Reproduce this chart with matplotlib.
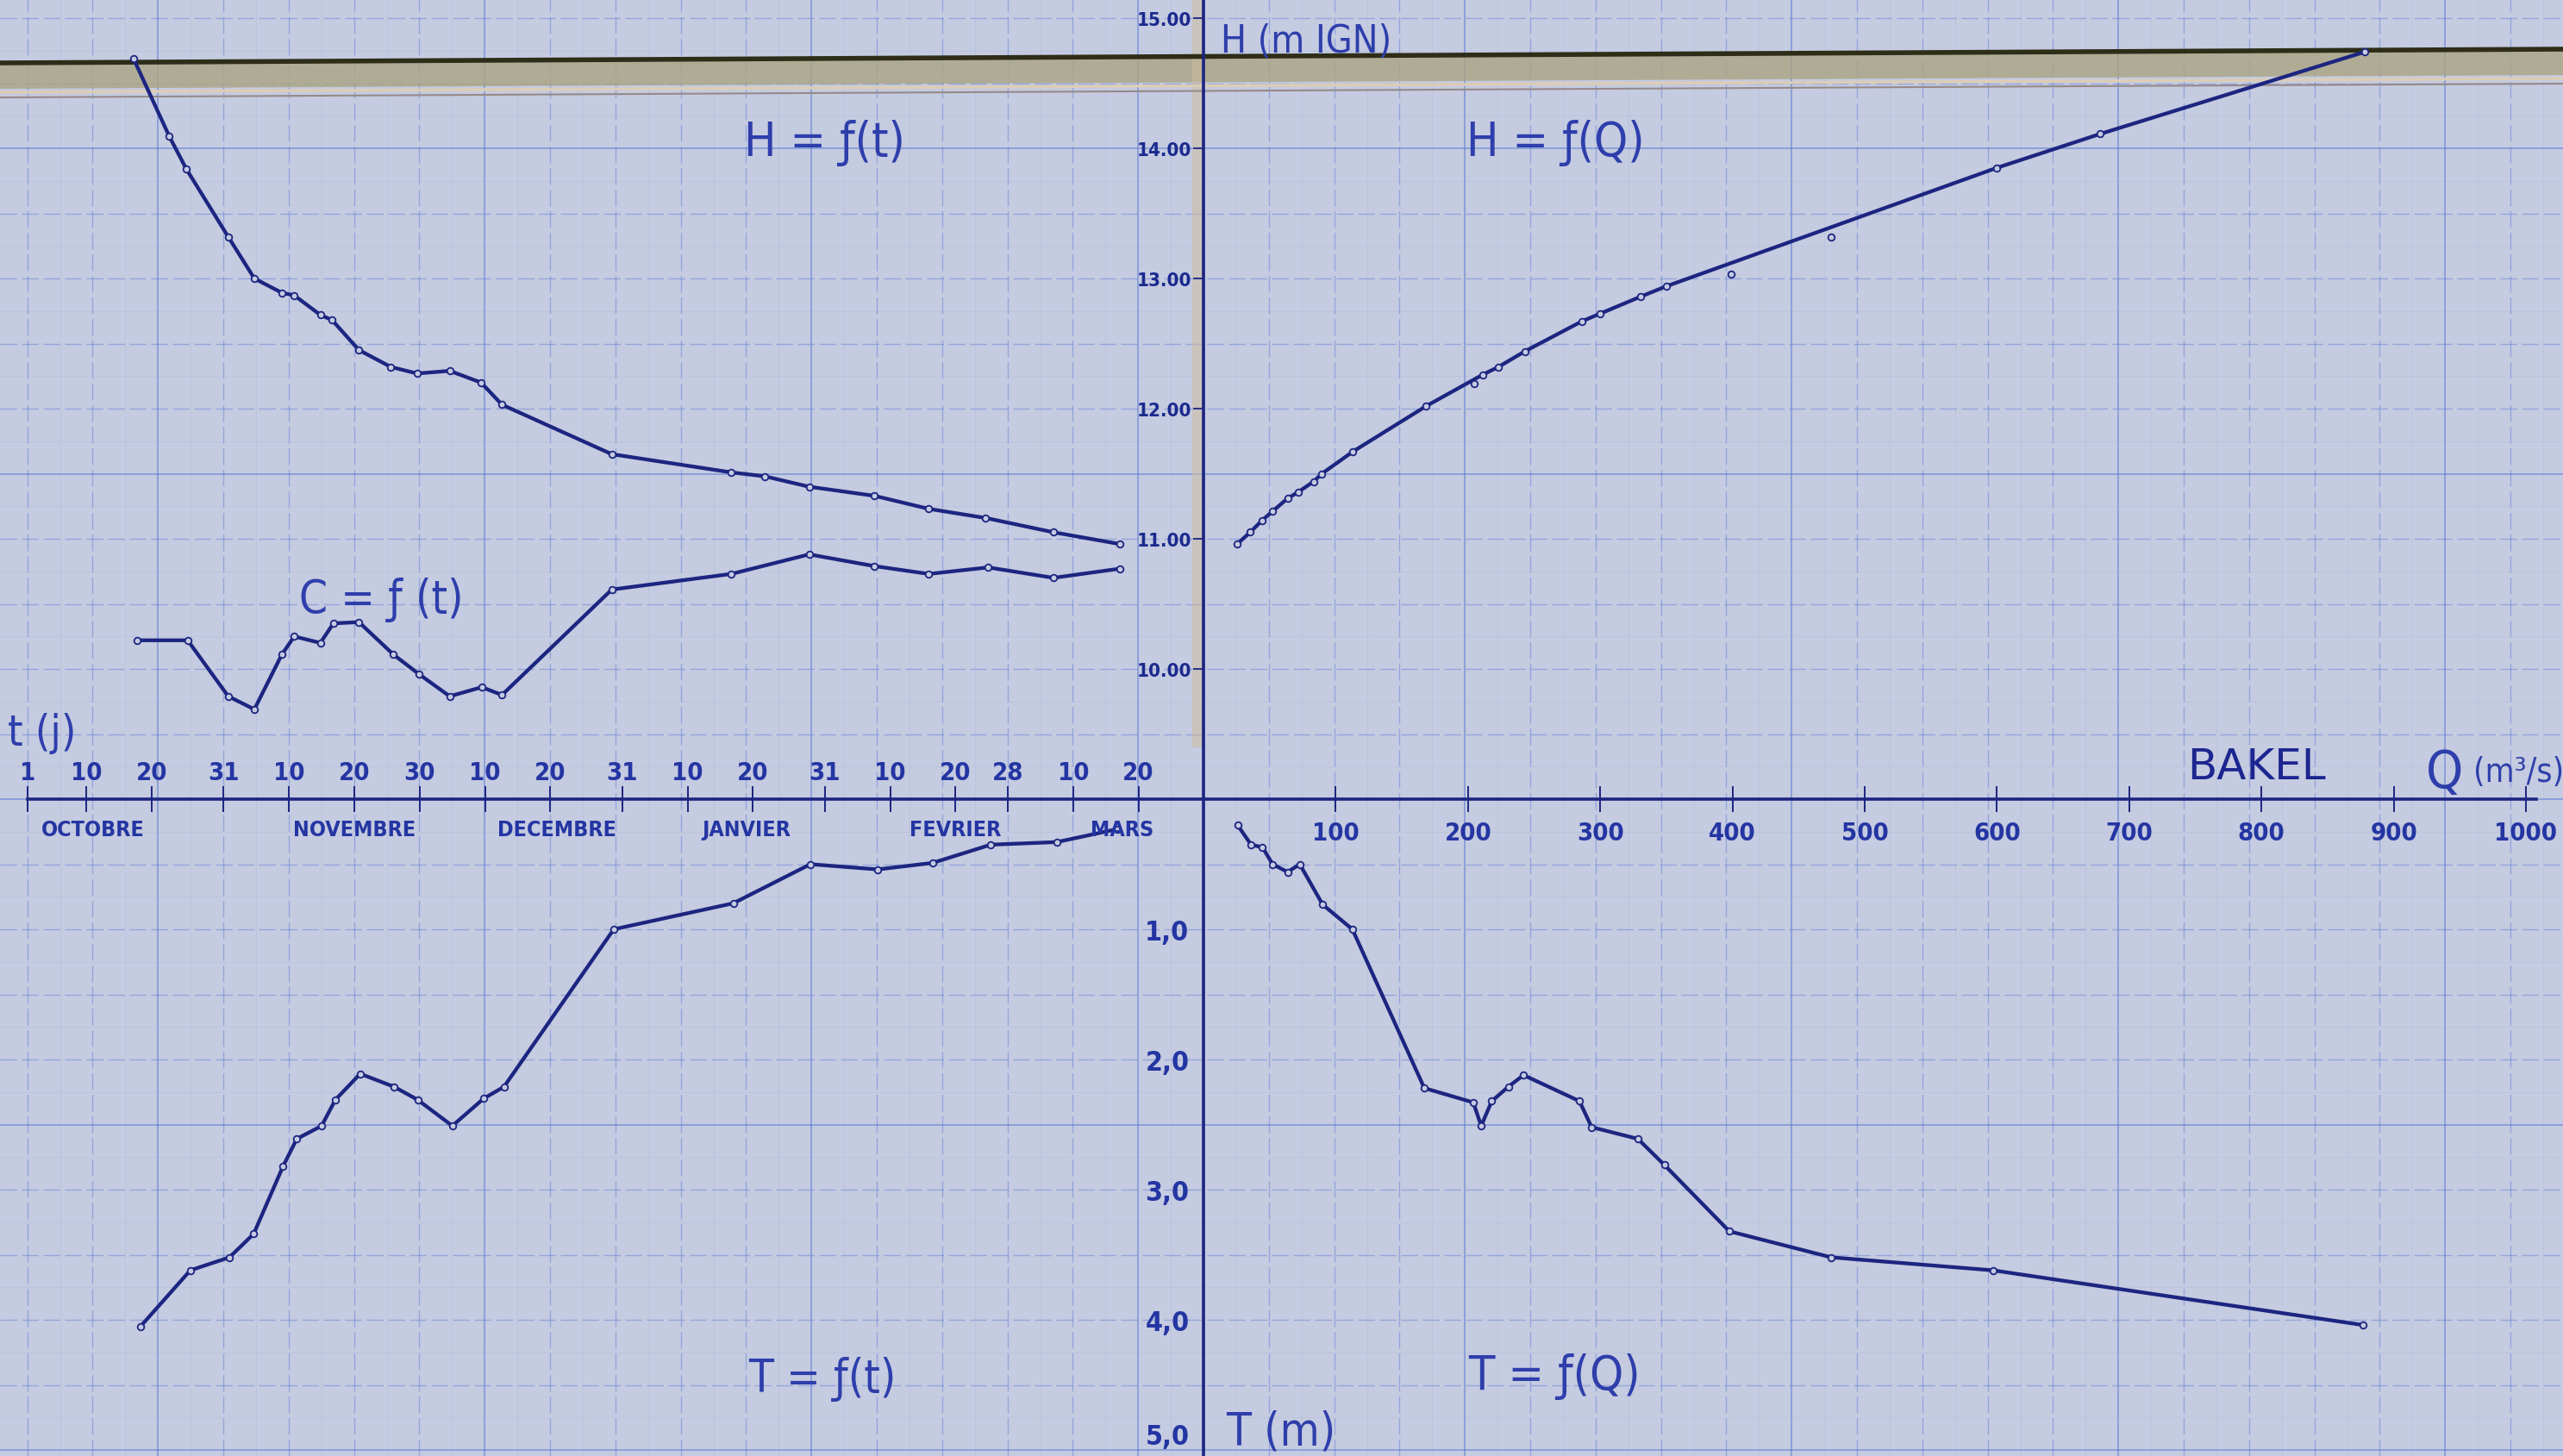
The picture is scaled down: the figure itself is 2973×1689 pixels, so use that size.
import numpy as np
import matplotlib.pyplot as plt
from matplotlib.lines import Line2D
from matplotlib.patches import Polygon, Rectangle

# BAKEL - H, C and T against time (left) and against discharge Q (right)
# time is counted in days: 1 = 1 octobre ... 181 = 30 mars

days_H = [17.2, 22.7, 25.3, 31.7, 35.7, 39.9, 41.8, 45.8, 47.6, 51.7, 56.6, 60.6,
          65.6, 70.4, 73.6, 90.4, 108.7, 113.8, 120.6, 130.6, 138.9, 147.6, 158.0, 168.1]
H_t = [14.69, 14.09, 13.84, 13.32, 13.00, 12.89, 12.87, 12.72, 12.68, 12.45, 12.32, 12.27,
       12.29, 12.20, 12.03, 11.65, 11.51, 11.48, 11.40, 11.33, 11.23, 11.16, 11.05, 10.96]

# C has no scale on the sheet, read in H units
days_C = [17.7, 25.5, 31.7, 35.7, 39.9, 41.8, 45.8, 47.8, 51.7, 57.0, 60.9, 65.6, 70.5,
          73.6, 90.4, 108.7, 120.6, 130.6, 138.9, 148.0, 158.0, 168.1]
C_t = [10.22, 10.22, 9.79, 9.69, 10.11, 10.25, 10.20, 10.35, 10.36, 10.11, 9.96, 9.79, 9.86,
       9.80, 10.61, 10.73, 10.88, 10.79, 10.73, 10.78, 10.70, 10.77]

days_T = [18.3, 25.9, 31.9, 35.6, 40.1, 42.2, 46.0, 48.1, 51.9, 57.1, 60.7, 66.0, 70.8,
          73.9, 90.7, 109.0, 120.8, 131.1, 139.5, 148.4, 158.5, 167.8]
T_t = [4.05, 3.62, 3.52, 3.34, 2.82, 2.61, 2.51, 2.31, 2.11, 2.21, 2.31, 2.51, 2.30,
       2.21, 1.00, 0.80, 0.50, 0.54, 0.49, 0.35, 0.33, 0.23]

# rating curve H = f(Q)
Q_HQ = [25.5, 35.3, 44.2, 52.1, 63.6, 71.8, 83.3, 89.5, 113, 168.5, 211, 223, 243,
        286, 300, 330.5, 350, 600, 678, 878]
H_Q = [10.96, 11.05, 11.14, 11.21, 11.31, 11.36, 11.44, 11.50, 11.67, 12.02, 12.26, 12.32,
       12.44, 12.67, 12.73, 12.86, 12.94, 13.85, 14.11, 14.74]
Q_out = [204.7, 399, 474.8]
H_out = [12.19, 13.03, 13.32]

Q_TQ = [25.8, 36, 44.6, 52.3, 63.6, 72.8, 90.1, 112.6, 167, 204, 210, 218, 230.5, 242,
        284.3, 293.5, 328.5, 348.5, 397.6, 474.6, 597, 876.8]
T_Q = [0.20, 0.35, 0.37, 0.50, 0.56, 0.50, 0.81, 1.00, 2.22, 2.33, 2.51, 2.32, 2.21, 2.12,
       2.32, 2.52, 2.61, 2.81, 3.32, 3.52, 3.62, 4.04]

day_ticks = [1, 10, 20, 31, 41, 51, 61, 71, 81, 92, 102, 112, 123, 133, 143, 151, 161, 171]
day_labels = ['1', '10', '20', '31', '10', '20', '30', '10', '20', '31', '10', '20', '31',
              '10', '20', '28', '10', '20']
months = ['OCTOBRE', 'NOVEMBRE', 'DECEMBRE', 'JANVIER', 'FEVRIER', 'MARS']
month_pos = [11, 51, 82, 111, 143, 168.5]
H_ticks = [10, 11, 12, 13, 14, 15]
H_labels = ['10.00', '11.00', '12.00', '13.00', '14.00', '15.00']
T_ticks = [1, 2, 3, 4, 5]
T_labels = ['1,0', '2,0', '3,0', '4,0', '5,0']
Q_ticks = [100, 200, 300, 400, 500, 600, 700, 800, 900, 1000]

# colours
paper = '#c5cbe0'
ink = '#1c2580'
blue = '#2435a3'

W, Hpx = 2973, 1690
x0, y0 = 1396, 928          # pixel position of the origin
px_day, px_Q, px_H = 7.58, 1.534, 151.0
ox = x0 / W
oy = (Hpx - y0) / Hpx
day_min = 1 - 32 / px_day
day_max = 1 + (x0 - 32) / px_day
Q_max = (W - x0) / px_Q
H_top = 9 + y0 / px_H
T_bot = (Hpx - y0) / px_H

fig = plt.figure(figsize=(W / 100, Hpx / 100), dpi=100, facecolor=paper)

# graph paper, in cm (majors every 5 cm, origin 1 cm right of a major line)
bg = fig.add_axes([0, 0, 1, 1], zorder=0)
bg.set_facecolor(paper)
cx = 75.8
cy = 75.5
bg.set_xlim(-x0 / cx + 1, (W - x0) / cx + 1)
bg.set_ylim(-(Hpx - y0) / cy, y0 / cy)
for v in np.arange(-20, 25, 0.5):
    if v % 5 == 0:
        bg.axvline(v, color='#4a6fd2', lw=1.3, alpha=0.5)
    elif v % 1 == 0:
        bg.axvline(v, color='#5b7bd6', lw=1.0, alpha=0.45, dashes=(14, 4))
    else:
        bg.axvline(v, color='#8aa2de', lw=0.6, alpha=0.2)
for v in np.arange(-12, 14, 0.5):
    if v % 5 == 0:
        bg.axhline(v, color='#4a6fd2', lw=1.3, alpha=0.5)
    elif v % 1 == 0:
        bg.axhline(v, color='#5b7bd6', lw=1.0, alpha=0.45, dashes=(14, 4))
    else:
        bg.axhline(v, color='#8aa2de', lw=0.6, alpha=0.2)
bg.axis('off')

# fold / ruler band at the top of the scan
yl, yr = 1 - 74 / Hpx, 1 - 58 / Hpx
fig.add_artist(Polygon([[0, yl], [1, yr], [1, yr - 30 / Hpx], [0, yl - 30 / Hpx]],
                       closed=True, transform=fig.transFigure, facecolor='#aaa482',
                       edgecolor='none', alpha=0.8, zorder=1))
fig.add_artist(Line2D([0, 1], [yl, yr], transform=fig.transFigure, color='#2d2d18', lw=4, zorder=2))
fig.add_artist(Line2D([0, 1], [yl - 34 / Hpx, yr - 34 / Hpx], transform=fig.transFigure,
                      color='#dccdb6', lw=2.5, zorder=2))
fig.add_artist(Line2D([0, 1], [yl - 40 / Hpx, yr - 40 / Hpx], transform=fig.transFigure,
                      color='#958a88', lw=1.5, zorder=2))
fig.add_artist(Rectangle((ox - 13 / W, oy + 60 / Hpx), 12 / W, 1 - oy, transform=fig.transFigure,
                         facecolor='#cdbd9f', edgecolor='none', alpha=0.55, zorder=1))

ax_tl = fig.add_axes([0, oy, ox, 1 - oy], zorder=3)
ax_tr = fig.add_axes([ox, oy, 1 - ox, 1 - oy], zorder=3)
ax_bl = fig.add_axes([0, 0, ox, oy], zorder=3)
ax_br = fig.add_axes([ox, 0, 1 - ox, oy], zorder=3)

for ax in (ax_tl, ax_tr, ax_bl, ax_br):
    ax.set_facecolor('none')
    for s in ax.spines.values():
        s.set_visible(False)
    ax.set_xticks([])
    ax.set_yticks([])

ax_tl.set_xlim(day_min, day_max)
ax_tl.set_ylim(9, H_top)
ax_tr.set_xlim(0, Q_max)
ax_tr.set_ylim(9, H_top)
ax_bl.set_xlim(day_min, day_max)
ax_bl.set_ylim(T_bot, 0)
ax_br.set_xlim(0, Q_max)
ax_br.set_ylim(T_bot, 0)

line_kw = dict(color=ink, lw=3.1, marker='o', ms=5.5, mfc=paper, mec=ink, mew=1.3)
ax_tl.plot(days_H, H_t, **line_kw)
ax_tl.plot(days_C, C_t, **line_kw)
ax_bl.plot(days_T, T_t, **line_kw)
ax_tr.plot(Q_HQ, H_Q, **line_kw)
ax_tr.plot(Q_out, H_out, ls='none', marker='o', ms=5.5, mfc=paper, mec=ink, mew=1.3)
ax_br.plot(Q_TQ, T_Q, **line_kw)

# central axes
ax_tr.spines['left'].set_visible(True)
ax_br.spines['left'].set_visible(True)
ax_bl.spines['top'].set_visible(True)
ax_br.spines['top'].set_visible(True)
ax_bl.spines['top'].set_bounds(1, day_max)
ax_br.spines['top'].set_bounds(0, 1008)
for ax, side in ((ax_tr, 'left'), (ax_br, 'left'), (ax_bl, 'top'), (ax_br, 'top')):
    ax.spines[side].set_color(ink)
    ax.spines[side].set_linewidth(2.6)

ax_tr.set_yticks(H_ticks)
ax_tr.set_yticklabels(H_labels)
ax_tr.tick_params(axis='y', direction='out', length=9, width=1.3, color=ink, pad=1,
                  labelsize=16, labelcolor='#1b2a8e')
ax_tr.set_xticks(Q_ticks)
ax_tr.set_xticklabels([str(q) for q in Q_ticks])
ax_tr.tick_params(axis='x', direction='inout', length=22, width=1.4, color=ink, pad=7,
                  labelsize=21, labelcolor=blue)

ax_bl.xaxis.tick_top()
ax_bl.set_xticks(day_ticks)
ax_bl.set_xticklabels(day_labels)
ax_bl.tick_params(axis='x', direction='inout', length=22, width=1.4, color=ink, pad=1,
                  labelsize=21, labelcolor=blue)

ax_br.set_yticks(T_ticks)
ax_br.set_yticklabels(T_labels)
ax_br.tick_params(axis='y', length=0, pad=12, labelsize=23, labelcolor=blue)
ax_br.get_yticklabels()[-1].set_verticalalignment('bottom')

for lbl in (ax_tr.get_yticklabels() + ax_tr.get_xticklabels() + ax_bl.get_xticklabels()
            + ax_br.get_yticklabels()):
    lbl.set_fontweight('bold')
    lbl.set_fontstretch('condensed')

for m, p in zip(months, month_pos):
    ax_bl.text(p, 0.23, m, ha='center', va='center', fontsize=18, fontweight='bold',
               fontstretch='condensed', color=blue)

# hand lettering
hk = dict(family=['DejaVu Sans'], fontstretch='condensed', fontweight='normal', color='#2e3eab')
ax_tl.text(110.6, 13.95, 'H = ƒ(t)', fontsize=40, va='baseline', **hk)
ax_tr.text(199, 13.95, 'H = ƒ(Q)', fontsize=40, va='baseline', **hk)
ax_tl.text(42.6, 10.44, 'C = ƒ (t)', fontsize=38, va='baseline', **hk)
ax_tl.text(-2.0, 9.42, 't (j)', fontsize=36, va='baseline', **hk)
ax_tr.text(13, 14.74, 'H (m IGN)', fontsize=32, va='baseline', **hk)
ax_tr.text(744, 9.16, 'BAKEL', fontsize=36, va='baseline', family=['DejaVu Sans'], color='#1c2590')
ax_tr.text(924, 9.09, 'Q', fontsize=44, va='baseline', **hk)
ax_tr.text(960, 9.14, '(m³/s)', fontsize=28, va='baseline', **hk)
ax_bl.text(111.3, 4.55, 'T = ƒ(t)', fontsize=38, va='baseline', **hk)
ax_br.text(200, 4.53, 'T = ƒ(Q)', fontsize=40, va='baseline', **hk)
ax_br.text(17, 4.96, 'T (m)', fontsize=38, va='baseline', **hk)

fig.savefig('out.png', dpi=100, facecolor=paper)
